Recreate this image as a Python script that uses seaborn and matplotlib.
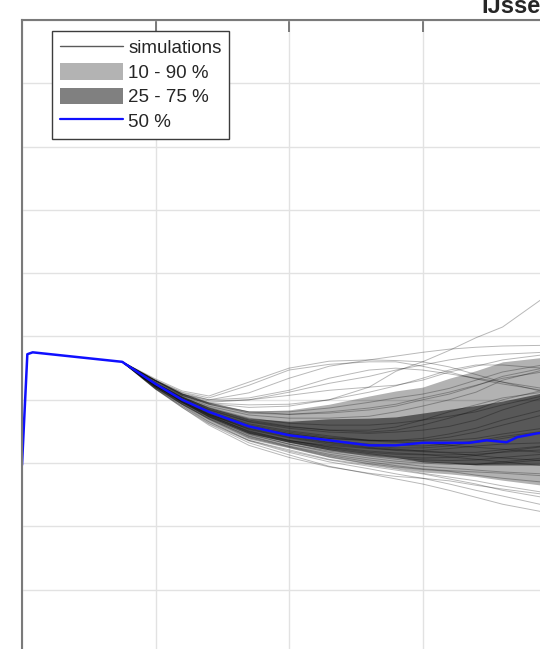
import pandas as pd
import seaborn as sns
import matplotlib.pyplot as plt
from matplotlib.lines import Line2D
from matplotlib.patches import Patch

# time (days) and water level (cm)
t_median = [0, 0.4, 0.8, 7.5, 10, 12, 14, 17, 20, 23, 26, 28, 30, 32, 33.5, 34.8, 36.3, 37.1, 38.6, 40]
median = [-0.3, 17.2, 17.5, 16.0, 12.5, 10.0, 8.1, 5.8, 4.4, 3.6, 2.8, 2.8, 3.2, 3.2, 3.2, 3.6, 3.3, 4.1, 4.7, 5.0]

t_sim = [7.5, 10, 12, 14, 17, 20, 23, 26, 28, 30, 32, 34, 36, 39]
p90 = [16.0, 13.1, 11.1, 9.6, 8.2, 8.4, 9.3, 10.6, 11.4, 12.0, 13.4, 14.6, 16.0, 16.7]
p75 = [16.0, 12.8, 10.6, 8.8, 7.1, 6.6, 7.0, 7.1, 7.3, 7.9, 8.5, 9.1, 9.8, 11.1]
p25 = [16.0, 12.2, 9.6, 7.3, 4.7, 3.3, 2.1, 1.3, 0.9, 0.2, 0.0, -0.3, -0.3, -0.3]
p10 = [16.0, 11.8, 9.2, 6.6, 3.8, 2.4, 0.9, -0.2, -0.8, -1.4, -1.7, -2.1, -2.7, -3.5]

simulations = [
    # upper runs
    [16.0, 13.3, 11.4, 10.6, 12.8, 15.0, 16.1, 16.3, 16.2, 16.0, 15.2, 14.0, 12.8, 11.3],
    [16.0, 13.1, 11.1, 10.0, 11.1, 13.4, 15.3, 16.3, 16.9, 17.5, 18.0, 18.3, 18.5, 18.6],
    [16.0, 13.0, 10.8, 9.4, 8.8, 9.0, 10.0, 12.0, 14.5, 16.0, 17.8, 19.8, 21.5, 26.0],
    [16.0, 13.1, 10.9, 9.6, 10.0, 11.2, 12.6, 13.7, 14.7, 15.5, 16.3, 16.9, 17.2, 17.5],
    [16.0, 13.0, 10.9, 9.8, 10.0, 10.7, 11.5, 12.0, 12.3, 13.1, 14.4, 15.3, 16.3, 17.1],
    [16.0, 13.0, 10.7, 9.5, 9.2, 9.3, 10.0, 11.2, 12.2, 13.4, 14.7, 15.5, 15.5, 15.0],
    [16.0, 13.1, 11.2, 10.3, 12.3, 14.7, 15.6, 16.0, 16.0, 15.3, 14.4, 13.3, 12.5, 11.5],
    [16.0, 13.0, 10.9, 10.0, 10.3, 11.5, 13.4, 14.7, 15.0, 14.7, 14.1, 13.4, 12.8, 11.8],
    [16.0, 12.8, 10.7, 9.3, 8.1, 8.1, 8.7, 9.6, 10.3, 10.9, 11.8, 13.1, 14.4, 15.5],
    [16.0, 13.0, 10.9, 9.5, 8.1, 7.7, 7.9, 8.4, 9.0, 10.0, 10.9, 12.2, 13.7, 15.0],
    # middle runs
    [16.0, 12.6, 10.4, 8.7, 6.8, 5.8, 5.2, 4.9, 5.2, 6.0, 7.1, 8.4, 10.0, 11.5],
    [16.0, 12.5, 10.1, 8.2, 6.2, 5.1, 4.3, 3.6, 3.5, 3.6, 4.1, 4.9, 6.0, 7.6],
    [16.0, 12.3, 9.8, 7.7, 5.5, 4.3, 3.3, 2.7, 2.4, 2.4, 2.7, 3.3, 3.9, 4.9],
    [16.0, 12.2, 9.6, 7.4, 5.1, 3.6, 2.5, 1.7, 1.4, 1.3, 1.3, 1.4, 1.7, 2.1],
    [16.0, 12.0, 9.3, 7.0, 4.3, 2.7, 1.4, 0.5, 0.0, -0.5, -0.8, -1.1, -1.4, -1.7],
    [16.0, 12.3, 10.0, 7.9, 5.8, 4.7, 3.9, 3.5, 3.3, 3.2, 2.8, 2.5, 2.2, 1.7],
    [16.0, 12.5, 10.3, 8.5, 6.6, 5.7, 5.2, 5.2, 5.7, 6.8, 8.1, 9.2, 10.3, 11.2],
    [16.0, 12.6, 10.4, 8.8, 7.1, 6.3, 6.0, 6.0, 6.3, 6.8, 7.4, 8.1, 9.2, 10.6],
    [16.0, 12.2, 9.6, 7.6, 5.4, 4.1, 3.2, 2.5, 2.2, 1.9, 1.7, 1.7, 2.1, 2.7],
    [16.0, 12.0, 9.5, 7.3, 4.7, 3.3, 2.1, 1.1, 0.6, 0.2, 0.0, -0.2, 0.0, 0.5],
    [16.0, 12.3, 10.0, 8.1, 6.0, 4.9, 4.1, 3.6, 3.5, 3.5, 3.6, 3.9, 4.6, 5.5],
    [16.0, 12.5, 10.3, 8.4, 6.5, 5.5, 4.9, 4.7, 4.9, 5.2, 5.8, 6.8, 8.4, 10.3],
    [16.0, 12.6, 10.6, 9.0, 7.6, 7.1, 7.1, 7.4, 8.1, 9.0, 10.0, 11.2, 13.1, 14.7],
    [16.0, 12.8, 10.7, 9.3, 7.9, 7.7, 8.1, 8.7, 9.3, 10.3, 11.2, 12.3, 13.4, 14.4],
    [16.0, 12.2, 9.8, 7.7, 5.7, 4.6, 3.9, 3.6, 3.6, 3.9, 4.6, 5.5, 6.8, 8.4],
    [16.0, 12.0, 9.3, 7.1, 4.6, 3.0, 1.7, 0.8, 0.3, 0.0, -0.2, -0.2, 0.2, 0.8],
    [16.0, 12.3, 9.8, 7.6, 5.0, 3.6, 2.6, 1.9, 1.6, 1.4, 1.0, 0.6, 0.2, -0.4],
    [16.0, 12.2, 9.7, 7.5, 4.9, 3.5, 2.8, 2.3, 2.1, 2.0, 2.3, 2.7, 3.0, 3.2],
    [16.0, 12.1, 9.5, 7.2, 4.5, 3.0, 1.9, 1.2, 0.8, 0.5, 0.4, 0.5, 0.9, 1.4],
    [16.0, 12.4, 9.9, 7.8, 5.3, 4.0, 3.0, 2.4, 2.0, 1.8, 1.6, 1.2, 0.8, 0.4],
    [16.0, 12.0, 9.4, 7.0, 4.2, 2.6, 1.2, 0.2, -0.4, -0.9, -1.2, -1.4, -1.6, -2.0],
    [16.0, 12.4, 10.0, 8.0, 5.7, 4.5, 3.6, 3.0, 2.8, 2.7, 3.0, 3.5, 4.2, 5.0],
    [16.0, 12.1, 9.6, 7.3, 4.8, 3.4, 2.3, 1.5, 1.0, 0.8, 0.9, 1.2, 1.8, 2.6],
    [16.0, 11.9, 9.3, 6.9, 4.0, 2.5, 1.0, -0.1, -0.6, -1.0, -1.3, -1.9, -2.4, -3.0],
    # lower runs
    [16.0, 11.7, 8.8, 6.2, 3.2, 1.3, -0.5, -1.7, -2.5, -3.3, -4.3, -5.4, -6.5, -7.7],
    [16.0, 11.7, 9.0, 6.3, 3.5, 1.7, 0.2, -0.9, -1.7, -2.4, -3.3, -4.3, -5.2, -6.6],
    [16.0, 11.8, 9.0, 6.5, 3.6, 1.9, 0.5, -0.5, -1.1, -1.7, -2.5, -3.3, -4.3, -5.4],
    [16.0, 11.8, 9.2, 6.5, 3.6, 2.1, 0.6, -0.3, -0.9, -1.6, -2.2, -2.8, -3.6, -4.6],
    [16.0, 11.7, 8.8, 6.0, 2.8, 0.9, -0.6, -1.6, -2.1, -2.4, -2.8, -3.5, -4.1, -4.9],
]

sim_df = pd.DataFrame(
    [(i, t, v) for i, run in enumerate(simulations) for t, v in zip(t_sim, run)],
    columns=["run", "t", "level"],
)

sns.set_style("white")
plt.rcParams["font.family"] = ["Liberation Sans", "DejaVu Sans"]

fig = plt.figure(figsize=(5.4, 6.49), dpi=100)
# axes is larger than the canvas: the picture shows only its upper left part
ax = fig.add_axes([22 / 540, 1 - 653 / 649, 1041.3 / 540, 633 / 649])

sns.lineplot(data=sim_df, x="t", y="level", units="run", estimator=None,
             color="black", alpha=0.28, lw=0.7, legend=False, ax=ax)
ax.fill_between(t_sim, p10, p90, color="black", alpha=0.3, lw=0)
ax.fill_between(t_sim, p25, p75, color="black", alpha=0.5, lw=0)
sns.lineplot(x=t_median, y=median, color="#1010ff", lw=1.8, ax=ax)

ax.set_xlim(0, 78)
ax.set_ylim(-30, 70)
ax.set_xticks(range(0, 79, 10))
ax.set_yticks(range(-30, 71, 10))
ax.grid(True, color="#e2e2e2", lw=1)
ax.set_axisbelow(True)
ax.tick_params(direction="in", length=8.5, width=1.4, color="#7a7a7a",
               top=True, right=True, labelleft=False, labelbottom=False)
for sp in ax.spines.values():
    sp.set_color("#7a7a7a")
    sp.set_linewidth(1.5)
ax.set_xlabel("")
ax.set_ylabel("")
ax.set_title("IJsselmeer", fontsize=17, fontweight="bold", pad=5)

handles = [
    Line2D([], [], color="#5a5a5a", lw=1),
    Patch(facecolor="#b3b3b3", edgecolor="none"),
    Patch(facecolor="#808080", edgecolor="none"),
    Line2D([], [], color="#1010ff", lw=1.6),
]
labels = ["simulations", "10 - 90 %", "25 - 75 %", "50 %"]
leg = ax.legend(handles, labels, loc="upper left",
                bbox_to_anchor=(52 / 540, 1 - 31 / 649), bbox_transform=fig.transFigure,
                fontsize=13.5, handlelength=3.36, handleheight=0.96, handletextpad=0.28,
                labelspacing=0.31, borderpad=0.42, borderaxespad=0,
                fancybox=False, framealpha=1, edgecolor="#3c3c3c")
leg.get_frame().set_linewidth(1)

fig.savefig("out.png", dpi=100)
